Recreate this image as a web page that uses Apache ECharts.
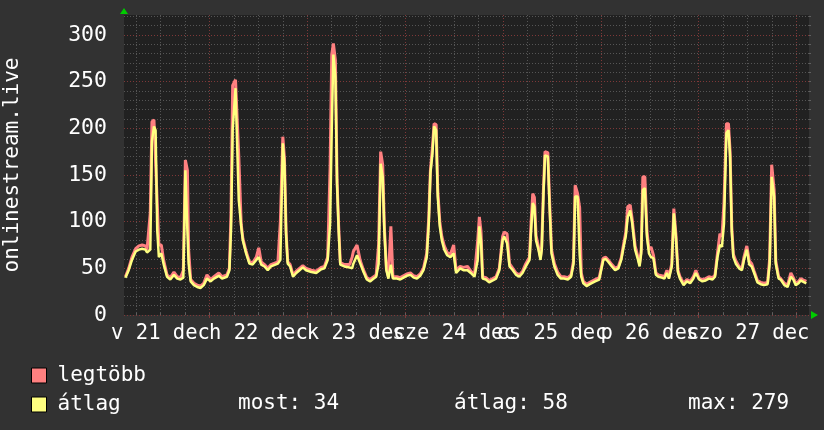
<!DOCTYPE html>
<html>
<head>
<meta charset="utf-8">
<script src="https://cdn.jsdelivr.net/npm/echarts@6/dist/echarts.min.js"></script>
<style>
html,body{margin:0;padding:0;background:#323232;}
#c{width:824px;height:430px;}
</style>
</head>
<body>
<div id="c"></div>
<script>
// Time in hours since 21 Dec 00:00
const hours = [
3.4,4.2,5.0,5.9,6.7,7.5,8.3,8.7,9.5,9.9,10.4,10.8,11.2,11.6,12.2,12.8,13.6,14.4,15.3,16.1,16.9,17.6,18.1,18.6,18.9,19.4,20.2,21.0,21.8,22.6,23.4,24.3,25.1,26.3,27.1,28.3,28.9,29.3,29.7,30.4,
30.8,31.2,31.8,32.2,33.0,33.8,34.6,35.5,36.1,36.7,37.5,38.3,39.1,40.8,41.4,42.0,42.4,42.8,43.2,43.8,44.5,45.3,46.1,46.9,47.7,49.0,50.2,51.4,52.2,53.0,53.6,54.0,54.4,54.9,55.3,55.7,56.1,57.1,58.4,
59.0,59.3,60.2,61.0,61.8,62.6,63.4,64.3,64.9,65.5,66.0,66.5,66.9,67.4,67.9,68.5,69.0,70.0,70.8,71.6,72.4,73.3,74.1,74.9,75.7,76.5,77.3,77.8,78.2,78.7,79.1,79.6,80.0,80.5,81.0,81.6,82.3,83.1,83.9,84.5,85.5,86.3,
87.3,88.1,89.0,89.8,90.2,90.6,91.0,91.8,92.6,93.5,94.3,95.1,95.9,96.3,97.0,97.6,98.4,99.2,100.0,100.8,101.6,102.5,102.9,103.3,103.7,104.1,104.7,105.2,105.5,105.9,106.3,107.0,107.4,107.9,108.6,109.4,110.2,111.0,111.9,112.7,113.3,113.7,114.3,114.8,115.2,
115.7,116.5,117.3,118.6,119.6,120.0,120.6,121.2,121.8,122.7,123.5,124.3,125.0,125.5,126.1,126.6,127.2,127.7,128.4,129.0,129.5,129.9,130.3,130.8,131.3,131.8,132.3,132.9,133.5,134.1,134.9,135.6,136.2,136.7,137.4,137.9,138.4,138.9,139.4,140.3,141.1,141.9,142.7,
143.3,144.1,144.9,145.7,146.5,147.4,148.0,148.6,149.2,149.7,150.2,150.8,151.3,151.7,152.1,152.5,153.1,153.9,154.6,155.1,155.8,156.4,157.0,157.6,158.4,159.2,160.0,160.9,161.4,161.9,162.5,162.9,163.6,164.1,165.0,165.8,166.6,167.2,167.8,168.5,169.0,169.9,170.4
];
// "legtöbb" (maximum)
const maxVals = [
41,50,62,71,74,75,74,70,110,207,209,207,120,75,75,58,43,40,46,41,40,48,166,155,70,38,34,32,31,34,43,38,41,45,41,43,50,110,246,252,
252,170,97,82,68,57,56,62,72,57,54,50,54,57,100,191,168,90,57,54,43,47,50,53,50,48,47,51,52,62,159,279,291,273,145,95,56,54,54,
62,68,75,58,48,40,38,41,43,76,175,161,95,50,41,95,41,41,40,42,44,45,42,41,44,50,66,105,155,180,205,204,134,100,84,74,67,65,75,48,52,51,
52,47,43,80,105,90,41,40,37,39,41,50,84,89,87,55,50,45,43,47,55,62,100,130,126,85,73,62,73,132,175,174,125,70,55,46,41,41,40,43,58,139,130,115,45,
36,33,35,38,40,41,61,62,59,54,50,52,61,74,88,116,118,102,74,64,55,70,148,148,90,70,73,64,45,43,42,41,48,41,55,114,87,48,41,34,38,36,41,
48,39,38,39,41,40,43,66,87,84,120,205,205,175,95,65,58,52,50,62,74,58,55,47,37,35,34,35,60,161,134,58,41,39,34,32,45,40,34,36,39,37,36
];
// "átlag" (average)
const avgVals = [
40,48,59,68,70,71,70,67,70,186,202,198,91,62,66,54,41,38,43,39,38,40,155,90,55,36,32,30,29,32,39,36,39,42,39,41,48,91,198,243,
243,123,95,80,66,55,54,59,62,54,52,48,52,55,59,184,162,87,55,52,41,45,48,51,48,46,45,49,50,59,98,198,279,255,141,91,54,52,51,
50,55,64,55,46,38,36,39,41,55,162,148,91,48,39,54,39,39,38,40,42,43,40,39,42,48,62,98,152,173,202,198,127,95,80,70,64,62,66,45,50,48,
48,45,41,59,95,80,39,38,35,37,39,48,80,84,77,52,48,43,41,45,52,59,91,120,116,80,70,59,70,127,171,170,120,66,52,43,39,39,38,41,55,127,127,65,41,
34,31,33,36,38,39,59,60,57,52,48,50,59,71,84,105,112,98,70,61,52,66,134,136,84,66,62,61,43,41,40,39,45,39,52,109,84,46,39,32,36,34,39,
45,38,36,37,39,38,41,62,75,73,98,195,198,170,91,62,55,50,48,59,70,54,52,45,35,33,32,33,55,148,127,55,39,38,32,30,41,38,32,34,37,35,34
];

const majorX = [24,48,72,96,120,144,168];
const minorX = [6,12,18,24,30,36,42,48,54,60,66,72,78,84,90,96,102,108,114,120,126,132,138,144,150,156,162,168];
const labelX = [12,36,60,84,108,132,156];
const dayLabels = ['v 21 dec','h 22 dec','k 23 dec','sze 24 dec','cs 25 dec','p 26 dec','szo 27 dec'];
const majorY = [0,50,100,150,200,250,300];
const minorY = [10,20,30,40,50,60,70,80,90,100,110,120,130,140,150,160,170,180,190,200,210,220,230,240,250,260,270,280,290,300,310,320];
const seriesNames = ['legtöbb','átlag'];
const statLabels = ['most: 34','átlag: 58','max: 279'];
const yTitle = 'onlinestream.live';

const FONT = 'DejaVu Sans Mono';
const RED = '#ff8080';
const YEL = '#ffff80';
const MAJOR = '#7e3838';
const MINOR = '#555555';

// labels split over two axes so that neighbouring (overlapping) labels are all kept
const labelsA = labelX.filter((v,i)=>i%2===0);
const labelsB = labelX.filter((v,i)=>i%2===1);
const dayFmt = (v)=>dayLabels[labelX.indexOf(v)];

const chart = echarts.init(document.getElementById('c'), null, {renderer:'canvas'});

const maxData = hours.map((h,i)=>[h, maxVals[i]]);
const avgData = hours.map((h,i)=>[h, avgVals[i]]);

const statX = [238, 454, 688];
const xMin = 3.05, xMax = 171.05;
const labelStyle = {interval:0, formatter:dayFmt, color:'#ffffff', fontFamily:FONT, fontSize:20.5, margin:8,
                    showMinLabel:true, showMaxLabel:true, hideOverlap:false};

chart.setOption({
  animation: false,
  backgroundColor: '#323232',
  grid: {left:124, right:15, top:15, bottom:115, show:true, backgroundColor:'#212121', borderWidth:0,
         containLabel:false, outerBoundsMode:'none'},
  xAxis: [
    {
      type:'value', min:xMin, max:xMax, position:'bottom', z:3,
      axisLine:{show:false},
      axisTick:{show:true, customValues:majorX, length:3, lineStyle:{color:MAJOR}},
      axisLabel:Object.assign({customValues:labelsA}, labelStyle),
      splitLine:{show:true, lineStyle:{color:MAJOR, width:1, type:[1,2]}}
    },
    {
      type:'value', min:xMin, max:xMax, position:'top', z:1,
      axisLine:{show:false},
      axisTick:{show:true, customValues:minorX, length:2, lineStyle:{color:'#606060'}},
      axisLabel:{show:false},
      splitLine:{show:true, lineStyle:{color:MINOR, width:1, type:[1,2]}}
    },
    {
      type:'value', min:xMin, max:xMax, position:'bottom', offset:0, z:3,
      axisLine:{show:false},
      axisTick:{show:false},
      axisLabel:Object.assign({customValues:labelsB}, labelStyle),
      splitLine:{show:false}
    }
  ],
  yAxis: [
    {
      type:'value', min:0, max:321.4, position:'left', z:3,
      name:yTitle, nameLocation:'middle', nameRotate:90, nameGap:101,
      nameTextStyle:{color:'#ffffff', fontFamily:FONT, fontSize:21},
      axisLine:{show:false},
      axisTick:{show:false, customValues:majorY},
      axisLabel:{customValues:majorY, interval:0, color:'#ffffff', fontFamily:FONT, fontSize:21.5, margin:17},
      splitLine:{show:true, lineStyle:{color:MAJOR, width:1, type:[1,2]}}
    },
    {
      type:'value', min:0, max:321.4, position:'right', z:1,
      axisLine:{show:false},
      axisTick:{show:true, customValues:minorY, length:2, lineStyle:{color:'#606060'}},
      axisLabel:{show:false},
      splitLine:{show:true, lineStyle:{color:MINOR, width:1, type:[1,2]}}
    }
  ],
  legend: {
    data: seriesNames, orient:'vertical', left:31, top:365, padding:0,
    itemWidth:15, itemHeight:15, itemGap:8, icon:'rect', selectedMode:false,
    itemStyle:{borderColor:'#000000', borderWidth:1},
    textStyle:{color:'#ffffff', fontFamily:FONT, fontSize:21, lineHeight:20, padding:[0,0,0,6]}
  },
  graphic: [
    {type:'polygon', shape:{points:[[120,14],[128,14],[124,8]]}, style:{fill:'#00cc00'}, silent:true},
    {type:'polygon', shape:{points:[[811,311],[811,319],[818,315]]}, style:{fill:'#00cc00'}, silent:true}
  ].concat(statLabels.map((t,i)=>({
    type:'text', x:statX[i], y:404, silent:true,
    style:{text:t, fill:'#ffffff', font:'21px "DejaVu Sans Mono"', textVerticalAlign:'middle'}
  }))),
  series: [
    {name:seriesNames[0], type:'line', data:maxData, xAxisIndex:0, yAxisIndex:0, showSymbol:false, z:5,
     itemStyle:{color:RED}, lineStyle:{color:RED, width:3}},
    {name:seriesNames[1], type:'line', data:avgData, xAxisIndex:0, yAxisIndex:0, showSymbol:false, z:6,
     itemStyle:{color:YEL}, lineStyle:{color:YEL, width:2.5}}
  ]
});
</script>
</body>
</html>
